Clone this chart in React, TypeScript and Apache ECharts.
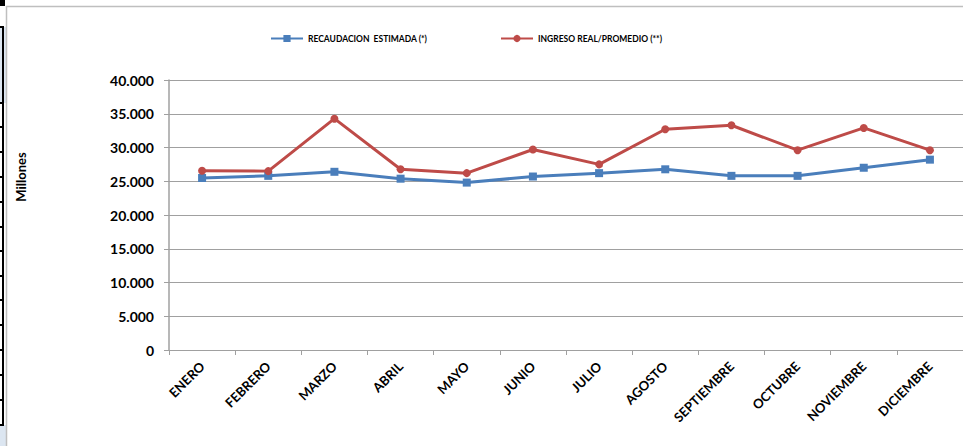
import React, { useEffect, useRef } from "react";
import * as echarts from "echarts";

const categories = [
  "ENERO", "FEBRERO", "MARZO", "ABRIL", "MAYO", "JUNIO",
  "JULIO", "AGOSTO", "SEPTIEMBRE", "OCTUBRE", "NOVIEMBRE", "DICIEMBRE",
];
const recaudacionEstimada = [25480, 25800, 26400, 25380, 24800, 25700, 26200, 26770, 25800, 25800, 27000, 28200];
const ingresoReal = [26560, 26500, 34270, 26770, 26200, 29700, 27500, 32700, 33300, 29600, 32900, 29600];
const seriesNames = ["RECAUDACION  ESTIMADA (*)", "INGRESO REAL/PROMEDIO (**)"];
const yTicks = { min: 0, max: 40000, interval: 5000 };

const FONT = "Lato, 'Open Sans', sans-serif";
const BLUE = "#4a7ebb";
const RED = "#be4b48";

function fmt(v: number) {
  if (v === 0) return "0";
  const s = String(Math.round(v));
  return s.replace(/\B(?=(\d{3})+(?!\d))/g, ".");
}

export default function App() {
  const ref = useRef<HTMLDivElement>(null);
  useEffect(() => {
    if (!ref.current) return;
    const chart = echarts.init(ref.current, undefined, { renderer: "svg" });
    const leftTicks = [27, 103, 127, 152, 177, 202, 227, 251, 276, 300, 325, 350, 375, 400, 425];
    const graphics: any[] = [
      { type: "rect", shape: { x: 0, y: 27, width: 6, height: 76 }, style: { fill: "#dce6f1" }, silent: true },
      { type: "rect", shape: { x: 0, y: 425, width: 6, height: 21 }, style: { fill: "#dce6f1" }, silent: true },
      { type: "rect", shape: { x: 0, y: 0, width: 5, height: 6 }, style: { fill: "#000" }, silent: true },
      { type: "line", shape: { x1: 3, y1: 27, x2: 3, y2: 425 }, style: { stroke: "#000", lineWidth: 2 }, silent: true },
      ...leftTicks.map((y) => ({
        type: "line",
        shape: { x1: 0, y1: y, x2: 4, y2: y },
        style: { stroke: "#000", lineWidth: 2 },
        silent: true,
      })),
      { type: "line", shape: { x1: 6.5, y1: 6, x2: 6.5, y2: 446 }, style: { stroke: "#bfbfbf", lineWidth: 1.5 }, silent: true },
      { type: "line", shape: { x1: 6, y1: 6.5, x2: 963, y2: 6.5 }, style: { stroke: "#bfbfbf", lineWidth: 1.5 }, silent: true },
      {
        type: "text",
        x: 21,
        y: 177,
        rotation: Math.PI / 2,
        style: {
          text: "Millones",
          font: `bold 13px ${FONT}`,
          fill: "#000",
          align: "center",
          verticalAlign: "middle",
        },
        silent: true,
      },
    ];
    const legendText = { fontSize: 8.5, fontWeight: "bold", color: "#000", fontFamily: FONT };
    chart.setOption({
      animation: false,
      backgroundColor: "#ffffff",
      textStyle: { fontFamily: FONT },
      graphic: graphics,
      legend: [
        {
          data: [seriesNames[0]],
          left: 270,
          top: 34,
          itemWidth: 32,
          itemHeight: 9,
          textStyle: legendText,
          padding: 0,
          itemGap: 0,
        },
        {
          data: [seriesNames[1]],
          left: 500,
          top: 34,
          itemWidth: 32,
          itemHeight: 9,
          textStyle: legendText,
          padding: 0,
          itemGap: 0,
        },
      ],
      grid: { left: 169, top: 80, right: -6, bottom: 96, containLabel: false },
      xAxis: {
        type: "category",
        data: categories,
        boundaryGap: true,
        axisLine: { show: true, lineStyle: { color: "#a0a0a0", width: 1 } },
        axisTick: { show: true, length: 5, alignWithLabel: false, lineStyle: { color: "#a0a0a0" } },
        axisLabel: {
          rotate: 45,
          interval: 0,
          margin: 14,
          fontSize: 13,
          fontWeight: "bold",
          color: "#000",
          fontFamily: FONT,
        },
        splitLine: { show: false },
      },
      yAxis: {
        type: "value",
        min: yTicks.min,
        max: yTicks.max,
        interval: yTicks.interval,
        axisLine: { show: true, lineStyle: { color: "#a0a0a0", width: 1.5 } },
        axisTick: { show: true, length: 5, lineStyle: { color: "#a0a0a0" } },
        axisLabel: {
          formatter: (v: number) => fmt(v),
          margin: 15,
          fontSize: 14,
          fontWeight: "bold",
          color: "#000",
          fontFamily: FONT,
        },
        splitLine: { show: true, lineStyle: { color: "#a0a0a0", width: 1 } },
      },
      series: [
        {
          name: seriesNames[0],
          type: "line",
          data: recaudacionEstimada,
          symbol: "rect",
          symbolSize: 8,
          lineStyle: { color: BLUE, width: 3 },
          itemStyle: { color: BLUE },
          z: 3,
        },
        {
          name: seriesNames[1],
          type: "line",
          data: ingresoReal,
          symbol: "circle",
          symbolSize: 8,
          lineStyle: { color: RED, width: 3 },
          itemStyle: { color: RED },
          z: 3,
        },
      ],
    });
    return () => chart.dispose();
  }, []);
  return (
    <div
      ref={ref}
      style={{ position: "fixed", left: 0, top: 0, width: 963, height: 446, overflow: "hidden" }}
    />
  );
}
